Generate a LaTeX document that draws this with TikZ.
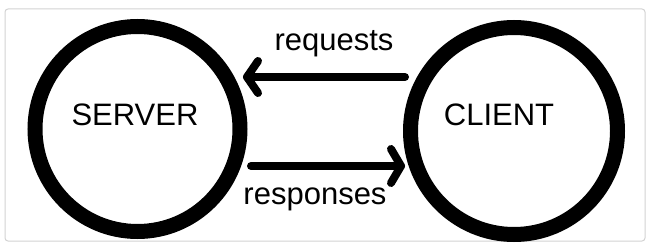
\documentclass[tikz,border=0pt]{standalone}
\usepackage{fontspec}
\setmainfont{Liberation Sans}
\begin{document}
\begin{tikzpicture}[x=1pt,y=-1pt,
  ring/.style={circle,draw=black,line width=15pt,inner sep=0pt,minimum size=#1},
  txt/.style={font=\fontsize{31}{35}\selectfont,inner sep=0pt,anchor=center},
  conn/.style={line width=8pt,line cap=round,line join=round}]
\useasboundingbox (0,0) rectangle (650,248);
\draw[gray!35,line width=1pt,rounded corners=3pt] (5,9) rectangle (645,241);
\node[ring=205pt] (server) at (137.5,129) {};
\node[ring=207pt] (client) at (514,131) {};
\node[txt] (serverlbl) at (135,115) {SERVER};
\node[txt] (clientlbl) at (499,115) {CLIENT};
\node[txt] (reqlbl) at (334,44) {requests};
\node[txt] (resplbl) at (315,199) {responses};
\coordinate (rqs) at (405,77);
\coordinate (rqt) at (247,77);
\coordinate (rqa) at (258,61);
\coordinate (rqb) at (258,93);
\coordinate (rss) at (251,166);
\coordinate (rst) at (401,166);
\coordinate (rsa) at (391,149);
\coordinate (rsb) at (391,183);
\draw[conn] (rqs) -- (rqt);
\draw[conn] (rqa) -- (rqt) -- (rqb);
\draw[conn] (rss) -- (rst);
\draw[conn] (rsa) -- (rst) -- (rsb);
\end{tikzpicture}
\end{document}
